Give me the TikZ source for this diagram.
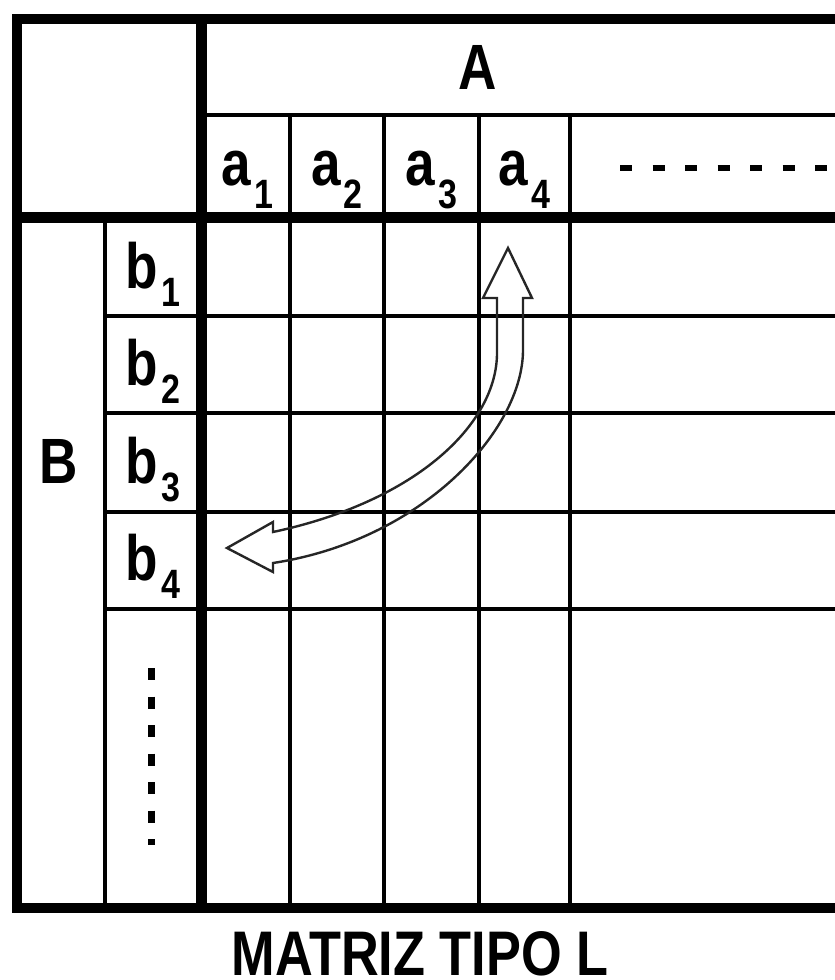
\documentclass[tikz,border=0pt]{standalone}
\usepackage{fontspec}
\newfontfamily\mtxfont[FakeStretch=0.83]{Liberation Sans}

\begin{document}
\begin{tikzpicture}[x=1pt,y=-1pt]

\useasboundingbox (0,0) rectangle (835,980);

% Each header or row label is specified as:
% \entry{name}{letter}{index}{x}{baseline}{drop of the index}
\newcommand{\entry}[6]{%
  \node[cell label] (#1) at (#4,#5)
    {#2\kern3pt\raisebox{-#6pt}{\fontsize{41}{41}\selectfont #3}};
}

\tikzset{
  frame rule/.style={
    draw=black,
    line width=10.5pt,
    line cap=butt,
    line join=miter
  },
  grid rule/.style={draw=black, line width=3.5pt},
  cell label/.style={
    font=\mtxfont\bfseries\fontsize{64}{64}\selectfont,
    inner sep=0pt,
    anchor=base
  },
  ellipsis rule/.style={draw=black, line cap=butt}
}

% Thin rules of the grid.
\draw[grid rule] (201.5,115) -- (835,115);
\foreach \c in {290,384,479,570}{
  \draw[grid rule] (\c,115) -- (\c,908);
}
\foreach \r in {316,413,512,609}{
  \draw[grid rule] (105,\r) -- (835,\r);
}
\draw[grid rule] (105,217.5) -- (105,908);

% Thick rules: outer frame, open on the right.
\draw[frame rule] (835,19) -- (17,19) -- (17,908) -- (835,908);
\draw[frame rule] (201.5,19) -- (201.5,908);
\draw[frame rule] (17,217.5) -- (835,217.5);

% Factor A and its levels.
\node[cell label] (factorA) at (478,89) {A};
\entry{a1}{a}{1}{247.5}{185}{23}
\entry{a2}{a}{2}{337}{185}{23}
\entry{a3}{a}{3}{431.5}{185}{23}
\entry{a4}{a}{4}{524.5}{185}{23}
\draw[ellipsis rule, line width=6pt, dash pattern=on 12pt off 20.5pt]
  (620,168) -- (835,168);

% Factor B and its levels.
\node[cell label] (factorB) at (59,483) {B};
\entry{b1}{b}{1}{153}{288}{18}
\entry{b2}{b}{2}{153}{385}{18}
\entry{b3}{b}{3}{153}{483}{18}
\entry{b4}{b}{4}{153}{580}{18}
\draw[ellipsis rule, line width=7pt, dash pattern=on 12pt off 16.5pt]
  (151,668) -- (151,845);

% Hollow double-headed arrow from a_4 to b_4.
\draw[black!85, line width=2.4pt, line join=miter]
  (497,298) -- (483,298) -- (508,248) -- (532,298) -- (523,298)
  -- (523,350) .. controls (523,430) and (423,540) .. (273,563)
  -- (273,572) -- (227,548) -- (273,522) -- (273,532)
  .. controls (418,501) and (497,423) .. (497,353) -- cycle;

% Title.
\node[cell label, text depth=0pt,
      font=\mtxfont\bfseries\fontsize{63}{63}\selectfont]
  (title) at (420,975) {MATRIZ TIPO L};

\end{tikzpicture}
\end{document}
